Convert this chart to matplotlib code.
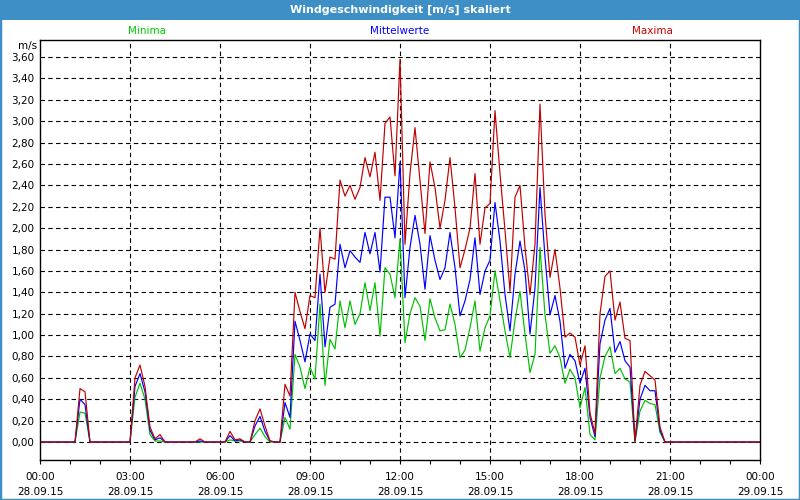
import matplotlib
matplotlib.use("Agg")
import matplotlib.pyplot as plt
from matplotlib.patches import Rectangle
import numpy as np

# 10-Minuten-Werte, 28.09.15 00:00 bis 29.09.15 00:00
stunden = np.arange(145) / 6.0

maxima = [
    0, 0, 0, 0, 0, 0, 0, 0, 0.50, 0.47, 0, 0, 0, 0, 0, 0, 0, 0,
    0, 0.60, 0.72, 0.52, 0.14, 0.03, 0.07, 0, 0, 0, 0, 0, 0, 0, 0.03, 0, 0, 0,
    0, 0, 0.10, 0.02, 0.03, 0, 0, 0.20, 0.31, 0.15, 0.01, 0, 0, 0.54, 0.43, 1.40, 1.22, 1.06,
    1.37, 1.35, 2.00, 1.40, 1.73, 1.71, 2.45, 2.30, 2.40, 2.27, 2.38, 2.66, 2.48, 2.71, 2.26, 2.98, 3.04, 2.49,
    3.58, 1.85, 2.51, 2.94, 2.44, 1.95, 2.62, 2.38, 2.00, 2.26, 2.66, 2.19, 1.63, 1.80, 2.00, 2.51, 1.85, 2.19,
    2.23, 3.10, 2.51, 1.98, 1.41, 2.29, 2.40, 1.82, 1.38, 1.85, 3.16, 2.13, 1.54, 1.80, 1.44, 0.98, 1.02, 0.98,
    0.72, 0.90, 0.27, 0.08, 1.20, 1.55, 1.60, 1.14, 1.31, 0.97, 0.95, 0.01, 0.53, 0.66, 0.62, 0.58, 0.14, 0,
    0, 0, 0, 0, 0, 0, 0, 0, 0, 0, 0, 0, 0, 0, 0, 0, 0, 0, 0,
]
mittelwerte = [
    0, 0, 0, 0, 0, 0, 0, 0, 0.40, 0.35, 0, 0, 0, 0, 0, 0, 0, 0,
    0, 0.52, 0.64, 0.47, 0.11, 0.02, 0.04, 0, 0, 0, 0, 0, 0, 0, 0.01, 0, 0, 0,
    0, 0, 0.06, 0.01, 0.02, 0, 0, 0.15, 0.24, 0.10, 0.01, 0, 0, 0.37, 0.23, 1.13, 0.95, 0.75,
    1.01, 0.95, 1.57, 0.89, 1.26, 1.29, 1.85, 1.63, 1.79, 1.73, 1.68, 1.96, 1.76, 1.96, 1.59, 2.29, 2.29, 1.91,
    2.62, 1.35, 1.82, 2.12, 1.85, 1.43, 1.93, 1.70, 1.52, 1.63, 1.96, 1.63, 1.18, 1.32, 1.52, 1.91, 1.38, 1.60,
    1.70, 2.24, 1.88, 1.38, 1.04, 1.57, 1.88, 1.60, 1.01, 1.44, 2.38, 1.73, 1.19, 1.37, 1.13, 0.69, 0.82, 0.76,
    0.55, 0.69, 0.23, 0.05, 0.92, 1.14, 1.25, 0.84, 0.94, 0.76, 0.70, 0.01, 0.40, 0.53, 0.48, 0.48, 0.11, 0,
    0, 0, 0, 0, 0, 0, 0, 0, 0, 0, 0, 0, 0, 0, 0, 0, 0, 0, 0,
]
minima = [
    0, 0, 0, 0, 0, 0, 0, 0, 0.28, 0.27, 0, 0, 0, 0, 0, 0, 0, 0,
    0, 0.42, 0.55, 0.40, 0.07, 0.01, 0.01, 0, 0, 0, 0, 0, 0, 0, 0, 0, 0, 0,
    0, 0, 0.02, 0.01, 0.01, 0, 0, 0.07, 0.13, 0.05, 0, 0, 0, 0.23, 0.12, 0.82, 0.70, 0.50,
    0.70, 0.59, 1.29, 0.53, 0.96, 0.87, 1.32, 1.07, 1.32, 1.10, 1.20, 1.49, 1.23, 1.49, 0.99, 1.63, 1.57, 1.35,
    1.90, 0.93, 1.20, 1.35, 1.27, 0.95, 1.34, 1.16, 1.04, 1.05, 1.29, 1.10, 0.79, 0.86, 1.07, 1.32, 0.85, 1.07,
    1.18, 1.60, 1.32, 1.04, 0.79, 1.14, 1.41, 1.01, 0.65, 0.82, 1.82, 1.19, 0.83, 0.90, 0.79, 0.55, 0.68, 0.60,
    0.32, 0.51, 0.07, 0.02, 0.60, 0.80, 0.89, 0.64, 0.69, 0.59, 0.56, 0, 0.29, 0.39, 0.36, 0.35, 0.09, 0,
    0, 0, 0, 0, 0, 0, 0, 0, 0, 0, 0, 0, 0, 0, 0, 0, 0, 0, 0,
]

x_ticks = [0, 3, 6, 9, 12, 15, 18, 21, 24]
x_labels = ["00:00\n28.09.15", "03:00\n28.09.15", "06:00\n28.09.15", "09:00\n28.09.15",
            "12:00\n28.09.15", "15:00\n28.09.15", "18:00\n28.09.15", "21:00\n28.09.15",
            "00:00\n29.09.15"]
y_ticks = np.round(np.arange(0, 3.61, 0.2), 2)
y_labels = [("%.2f" % v).replace(".", ",") for v in y_ticks]

blau_rahmen = "#3d8fc6"

fig = plt.figure(figsize=(8, 5), dpi=100)
fig.patch.set_facecolor("white")
ax = fig.add_axes([40 / 800, 40 / 500, 720 / 800, 420 / 500])

ax.plot(stunden, minima, color="#00c000", lw=0.85)
ax.plot(stunden, mittelwerte, color="#0000ff", lw=0.85)
ax.plot(stunden, maxima, color="#c00000", lw=0.85)

ax.set_xlim(0, 24)
ax.set_ylim(-0.168, 3.76)

# Gitter von Hand, gestrichelt
for v in y_ticks:
    ax.axhline(v, color="black", lw=0.8, ls=(0, (4, 3)), zorder=0)
for h in x_ticks[1:-1]:
    ax.axvline(h, color="black", lw=0.8, ls=(0, (4, 3)), zorder=0)

ax.set_xticks(x_ticks)
ax.set_xticklabels(x_labels, fontsize=7.5, linespacing=1.6)
ax.set_xticks(range(25), minor=True)
ax.tick_params(axis="x", which="both", length=3, width=0.8, pad=6)
ax.set_yticks(y_ticks)
ax.set_yticklabels(y_labels, fontsize=7.5)
ax.tick_params(axis="y", length=0, pad=4)
for s in ax.spines.values():
    s.set_linewidth(1.0)

# Titelleiste und Fensterrahmen
fig.patches.append(Rectangle((0, 1 - 20 / 500), 1, 20 / 500, transform=fig.transFigure,
                             facecolor=blau_rahmen, edgecolor="none", zorder=0))
fig.patches.append(Rectangle((0, 0), 1, 1, transform=fig.transFigure,
                             facecolor="none", edgecolor=blau_rahmen, lw=2.5, zorder=0))
fig.text(0.5, 1 - 10 / 500, "Windgeschwindigkeit [m/s] skaliert", color="white",
         fontsize=8, fontweight="bold", ha="center", va="center")

fig.text(147 / 800, 1 - 31 / 500, "Minima", color="#00cc00", fontsize=7.5, ha="center", va="center")
fig.text(400 / 800, 1 - 31 / 500, "Mittelwerte", color="#0000ff", fontsize=7.5, ha="center", va="center")
fig.text(652 / 800, 1 - 31 / 500, "Maxima", color="#cc0000", fontsize=7.5, ha="center", va="center")
fig.text(28 / 800, 1 - 46 / 500, "m/s", fontsize=7.5, ha="center", va="center")

fig.savefig("out.png", dpi=100)
